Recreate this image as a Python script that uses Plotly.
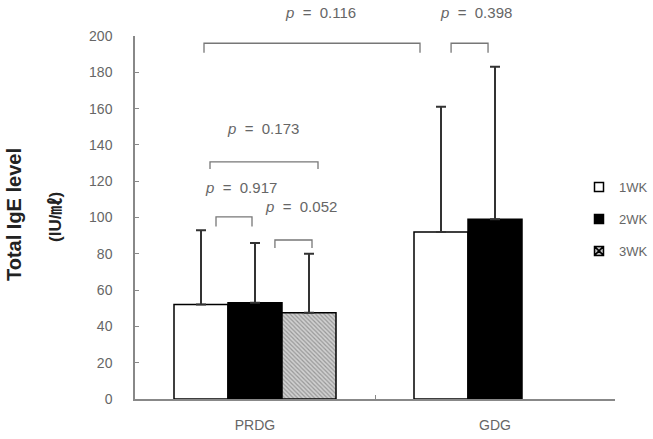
import plotly.graph_objects as go

groups = ["PRDG", "GDG"]
weeks = ["1WK", "2WK", "3WK"]
means = {"1WK": [52, 92], "2WK": [53, 99], "3WK": [47.5, None]}
upper = {"1WK": [93, 161], "2WK": [86, 183], "3WK": [80, None]}

# significance brackets (data coords on the category axis)
bracket_x0 = [-0.1625, 0.083, -0.1875, -0.2125, 0.817]
bracket_x1 = [-0.0125, 0.2375, 0.2625, 0.6875, 0.971]
bracket_top = [100.3, 87.6, 130.7, 196, 196]
bracket_end = [95, 83.2, 126.7, 190.8, 190.8]
p_labels = ["0.917", "0.052", "0.173", "0.116", "0.398"]
label_x = [-0.058, 0.19, 0.033, 0.271, 0.921]
label_y = [116.8, 105.8, 148.8, 213.2, 213.2]

FONT = "Liberation Sans, Arial, Noto Sans CJK KR, sans-serif"
YMAX = 200

styles = {
    "1WK": dict(color="white"),
    "2WK": dict(color="black"),
    "3WK": dict(color="#d0d0d0",
                pattern=dict(shape="\\", fgcolor="#606060", bgcolor="#d0d0d0", size=3, solidity=0.4)),
}

fig = go.Figure()
for w in weeks:
    err = [None if m is None else u - m for m, u in zip(means[w], upper[w])]
    fig.add_trace(go.Bar(
        x=groups, y=means[w], name=w, legendgroup=w, showlegend=False,
        marker=dict(**styles[w], line=dict(color="black", width=1.5)),
        error_y=dict(type="data", array=err, arrayminus=[0, 0], symmetric=False,
                     thickness=2, width=5, color="#333333"),
    ))
# legend entries with small square symbols
for w in weeks:
    st = styles[w]
    mk = dict(symbol="square", size=9, color=st["color"], line=dict(color="black", width=1.5))
    if w == "3WK":
        mk = dict(symbol="square-x", size=9, color="#c0c0c0", line=dict(color="black", width=1.5))
    fig.add_trace(go.Scatter(x=[None], y=[None], mode="markers", name=w, legendgroup=w,
                             marker=mk, showlegend=True))

shapes = []
for x0, x1, yt, ye in zip(bracket_x0, bracket_x1, bracket_top, bracket_end):
    shapes.append(dict(type="path", xref="x", yref="y",
                       path=f"M {x0},{ye} L {x0},{yt} L {x1},{yt} L {x1},{ye}",
                       line=dict(color="#777777", width=1.3)))

annotations = []
for lab, lx, ly in zip(p_labels, label_x, label_y):
    annotations.append(dict(x=lx, y=ly / YMAX, xref="x", yref="paper",
                            text=f"<i>p</i>&nbsp;&nbsp;=&nbsp;&nbsp;{lab}", showarrow=False,
                            xanchor="center", yanchor="middle",
                            font=dict(family=FONT, size=15, color="#666666")))
annotations.append(dict(x=-0.252, y=0.507, xref="paper", yref="paper", text="<b>Total IgE level</b>",
                        textangle=-90, showarrow=False, xanchor="center", yanchor="middle",
                        font=dict(family=FONT, size=20, color="#222222")))
annotations.append(dict(x=-0.167, y=0.501, xref="paper", yref="paper", text="<b>(IU/㎖)</b>",
                        textangle=-90, showarrow=False, xanchor="center", yanchor="middle",
                        font=dict(family=FONT, size=17, color="#222222")))

fig.update_layout(
    width=653, height=439,
    margin=dict(l=135, r=38, t=36, b=40, autoexpand=False),
    paper_bgcolor="white", plot_bgcolor="white",
    barmode="group", bargap=0.325, bargroupgap=0,
    showlegend=True,
    legend=dict(x=0.925, y=0.625, xanchor="left", yanchor="top", tracegroupgap=12,
                font=dict(family=FONT, size=13, color="#666666"), bgcolor="rgba(0,0,0,0)"),
    shapes=shapes, annotations=annotations,
    font=dict(family=FONT),
)
fig.update_xaxes(showline=True, linecolor="#888888", linewidth=1.5, ticks="inside", ticklen=4,
                 tickson="boundaries", tickcolor="#888888", range=[-0.5, 1.5], automargin=False,
                 tickfont=dict(family=FONT, size=14, color="#666666"), ticklabelstandoff=12)
fig.update_yaxes(showline=True, linecolor="#888888", linewidth=1.5, ticks="inside", ticklen=4,
                 tickcolor="#888888", range=[0, YMAX], dtick=20, showgrid=False, zeroline=False,
                 automargin=False,
                 tickfont=dict(family=FONT, size=14, color="#666666"), ticklabelstandoff=18)

fig.write_html("out.html")
